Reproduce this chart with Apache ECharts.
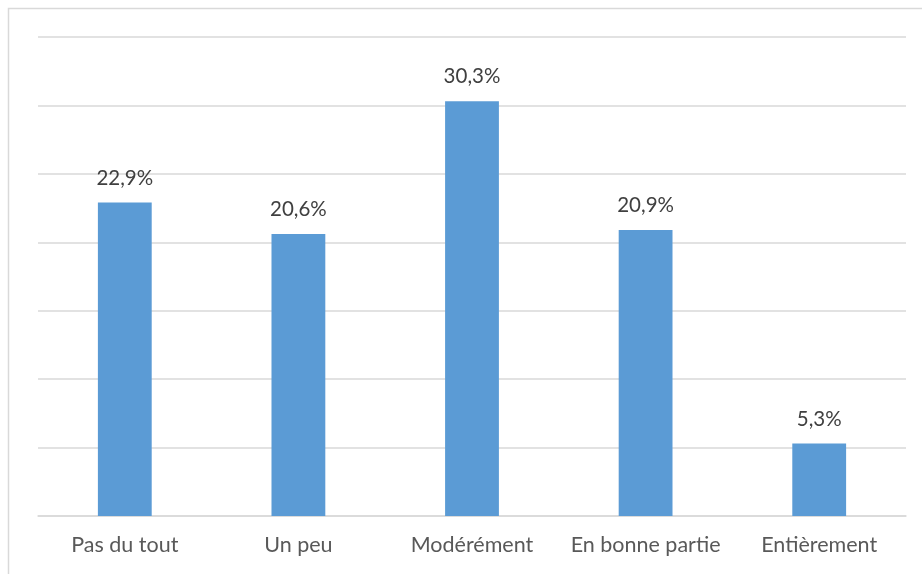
<!DOCTYPE html>
<html><head><meta charset="utf-8">
<script src="https://cdn.jsdelivr.net/npm/echarts@6/dist/echarts.min.js"></script>
<style>html,body{margin:0;padding:0;background:#fff}#c{width:922px;height:574px}</style>
</head><body><div id="c"></div>
<script>
const categories = ['Pas du tout', 'Un peu', 'Modérément', 'En bonne partie', 'Entièrement'];
const values = [22.9, 20.6, 30.3, 20.9, 5.3];
const chart = echarts.init(document.getElementById('c'), null, {renderer: 'canvas'});
chart.setOption({
  animation: false,
  backgroundColor: '#fff',
  graphic: [{type: 'rect', shape: {x: 8.5, y: 8.5, width: 950, height: 600}, style: {fill: 'none', stroke: '#d9d9d9', lineWidth: 1.5}, silent: true}],
  grid: {left: 38, right: 16, top: 37, bottom: 58},
  xAxis: {
    type: 'category', data: categories,
    axisLine: {show: true, lineStyle: {color: '#d9d9d9', width: 1.5}},
    axisTick: {show: false},
    axisLabel: {interval: 0, color: '#595959', fontSize: 21.5, fontFamily: 'Lato', margin: 18}
  },
  yAxis: {
    type: 'value', min: 0, max: 35, interval: 5,
    axisLabel: {show: false}, axisLine: {show: false}, axisTick: {show: false},
    splitLine: {lineStyle: {color: '#d9d9d9', width: 1.5}}
  },
  series: [{
    type: 'bar', data: values, barWidth: '31%',
    itemStyle: {color: '#5b9bd5'},
    label: {show: true, position: 'top', distance: 14, color: '#404040', fontSize: 20.5, fontFamily: 'Lato',
      formatter: p => p.value.toFixed(1).replace('.', ',') + '%'}
  }]
});
</script></body></html>
